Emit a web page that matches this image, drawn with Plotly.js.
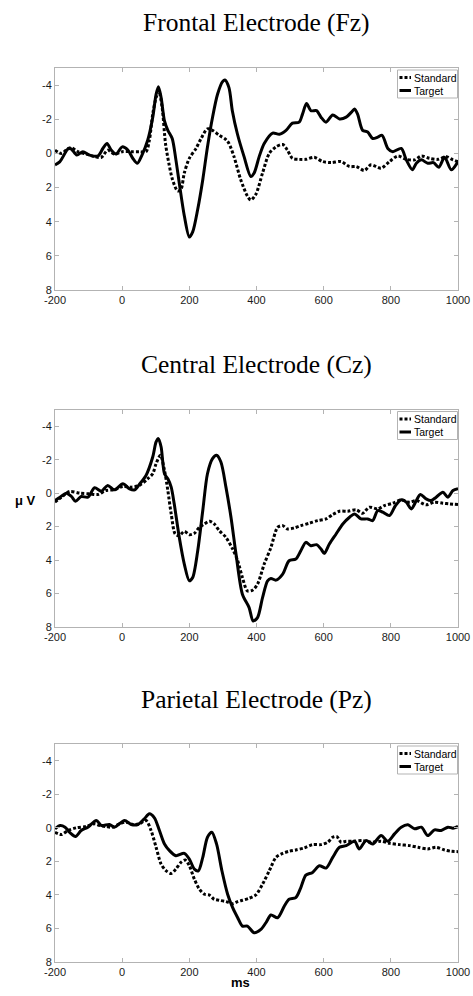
<!DOCTYPE html>
<html>
<head>
<meta charset="utf-8">
<script src="https://cdn.plot.ly/plotly-3.0.1.min.js"></script>
<style>html,body{margin:0;padding:0;background:#fff;}#chart{width:473px;height:996px;}</style>
</head>
<body>
<div id="chart"></div>
<script>
// ---- Data (time in ms, amplitude in µV; negative plotted up) ----
const panelTitles = ["Frontal Electrode (Fz)", "Central Electrode (Cz)", "Parietal Electrode (Pz)"];
const seriesNames = ["Standard", "Target"];
const xTickVals = [-200, 0, 200, 400, 600, 800, 1000];
const yTickVals = [-4, -2, 0, 2, 4, 6, 8];

// Fz
const fzTargetT = [-200,-186,-160,-151,-135,-117,-97,-72,-57,-45,-33,-18,0,17,32,45,59,76,91,101,108,116,126,136,149,160,170,185,200,210,225,240,254,269,284,299,306,318,328,343,363,383,393,408,423,448,468,488,507,527,537,549,562,579,592,607,627,647,667,682,692,701,716,731,746,761,774,791,806,831,846,864,876,891,910,927,943,960,980,1000];
const fzTargetV = [0.67,0.5,-0.29,-0.25,0.1,-0.1,0.1,0.15,-0.3,-0.58,-0.2,0.04,-0.38,-0.2,0.3,0.58,0.1,-0.77,-2.1,-3.46,-3.9,-3.27,-1.9,-1.35,-0.87,0.38,1.73,3.65,4.9,4.6,3.27,1.54,-0.38,-2.1,-3.46,-4.2,-4.3,-3.85,-2.5,-1.15,0.19,1.35,1.15,0.19,-0.58,-1.19,-1.12,-1.35,-1.77,-1.83,-2.3,-2.92,-2.5,-2.5,-2.12,-1.83,-2.25,-2.02,-2.12,-2.4,-2.6,-2.3,-1.35,-1.25,-0.87,-0.95,-1.06,-0.29,-0.1,-0.29,0.38,0.96,0.58,0.38,0.58,0.54,0.81,0.23,0.96,0.48];
const fzStandardT = [-200,-181,-166,-151,-132,-107,-82,-62,-43,-23,0,27,51,71,81,91,101,109,119,129,139,150,165,175,185,200,220,235,254,269,289,309,318,333,353,373,383,398,418,438,458,478,492,507,527,547,572,597,622,652,677,697,721,741,771,796,821,846,871,891,915,940,965,985,1000];
const fzStandardV = [-0.19,0,-0.2,-0.33,-0.1,0.04,0.19,0.23,-0.19,0.04,-0.1,-0.1,-0.1,-0.1,-0.77,-2.3,-3.27,-3.65,-2.7,-0.58,0.58,1.54,2.2,2.1,1.15,0.29,-0.29,-0.87,-1.44,-1.35,-1.06,-0.81,-0.58,0.19,1.54,2.5,2.73,2.4,1.15,0,-0.38,-0.52,-0.19,0.29,0.35,0.35,0.23,0.48,0.54,0.48,0.77,0.77,1.0,0.67,0.87,0.48,0.15,0.35,0.38,0.15,0.29,0.35,0.19,0.38,0.48];

// Cz
const czTargetT = [-200,-185,-166,-151,-139,-122,-102,-82,-62,-43,-23,2,22,37,51,71,91,101,108,116,126,136,146,155,170,185,200,210,225,240,254,269,281,294,309,324,339,358,378,390,403,418,433,443,458,478,497,517,532,547,562,579,592,602,617,637,657,677,692,711,731,746,761,776,796,814,831,846,861,876,888,905,920,935,955,970,985,1000];
const czTargetV = [0.44,0.24,0,0.2,0.48,0.2,0.24,-0.32,-0.12,-0.46,-0.2,-0.56,-0.26,-0.2,-0.52,-1.06,-2.16,-3.06,-3.26,-2.76,-1.16,-0.86,-0.36,0.64,2.64,4.24,5.24,5.04,3.44,1.04,-1.16,-2.06,-2.26,-1.86,-0.36,1.44,3.64,6.04,6.84,7.64,7.44,6.24,5.24,5.1,5.2,4.84,4.04,3.94,3.44,2.94,3.14,3.08,3.34,3.6,3.04,2.44,1.84,1.44,1.24,1.54,1.54,1.64,1.04,1.14,1.34,0.74,0.4,0.54,0.94,0.44,0.08,0.34,0.44,0.24,-0.06,0.24,-0.16,-0.26];
const czStandardT = [-200,-181,-156,-126,-97,-72,-48,-23,2,27,51,76,91,101,114,126,136,146,158,170,185,200,215,230,245,260,274,289,309,329,344,358,373,388,403,423,443,463,478,492,512,532,557,582,607,627,647,672,697,716,736,761,781,806,831,856,876,905,930,955,975,1000];
const czStandardV = [0.54,0.24,-0.1,0,0.04,0.08,-0.16,-0.2,-0.4,-0.36,-0.46,-0.86,-1.16,-1.76,-2.26,-1.36,-0.16,1.24,2.44,2.54,2.28,2.48,2.4,2.04,1.84,1.68,1.84,2.24,2.64,3.34,4.04,5.04,5.84,5.8,5.44,4.24,3.24,2.04,1.94,2.14,2.08,1.94,1.8,1.64,1.54,1.28,1.08,1.08,1.0,1.2,0.84,0.94,0.74,0.6,0.4,0.54,0.44,0.7,0.54,0.6,0.64,0.68];

// Pz
const pzTargetT = [-200,-185,-170,-154,-139,-122,-102,-77,-62,-38,-23,7,27,47,66,81,96,111,126,141,160,185,200,215,227,240,254,267,281,297,314,329,344,358,373,393,413,428,443,463,483,497,517,532,547,567,587,607,627,647,667,692,706,726,746,771,791,811,831,851,871,891,910,930,950,970,985,1000];
const pzTargetV = [0.06,-0.14,-0.04,0.32,0.52,0.16,-0.04,-0.44,-0.14,-0.2,-0.04,-0.44,-0.2,-0.2,-0.54,-0.84,-0.6,0.16,0.96,1.36,1.66,1.52,1.86,2.46,2.56,1.76,0.56,0.26,0.96,2.56,3.96,4.76,5.36,5.86,5.86,6.26,6.06,5.66,5.2,5.36,4.66,4.26,4.16,3.56,2.82,2.66,2.26,2.4,1.76,1.16,1.06,0.8,1.26,0.76,0.96,0.46,0.8,0.36,-0.04,-0.18,0.06,-0.04,0.46,0.12,0.16,-0.04,0.02,-0.08];
const pzStandardT = [-200,-181,-161,-137,-107,-82,-67,-48,-28,-8,12,32,51,71,86,101,116,131,146,160,175,188,200,215,230,245,259,274,289,309,329,344,358,378,398,418,438,458,478,497,517,542,567,592,612,627,639,652,667,687,716,741,771,796,826,856,881,910,935,960,980,1000];
const pzStandardV = [0.26,0.4,0.16,0,-0.08,-0.24,-0.14,-0.08,-0.04,-0.24,-0.34,-0.2,-0.24,-0.44,0.16,1.16,2.16,2.56,2.72,2.46,2.06,1.92,2.26,3.06,3.66,3.96,4.0,4.26,4.32,4.4,4.52,4.4,4.32,4.2,4.0,3.36,2.56,1.76,1.52,1.4,1.32,1.2,1.0,1.0,0.86,0.56,0.52,0.86,0.8,0.8,0.76,0.86,0.8,0.92,1.0,1.06,1.16,1.26,1.16,1.32,1.4,1.42];

const panels = [
  {std: [fzStandardT, fzStandardV], tgt: [fzTargetT, fzTargetV]},
  {std: [czStandardT, czStandardV], tgt: [czTargetT, czTargetV]},
  {std: [pzStandardT, pzStandardV], tgt: [pzTargetT, pzTargetV]}
];

// ---- Layout geometry ----
const W = 473, H = 996, ml = 55, mr = 15, mt = 68, mb = 34;
const plotW = W - ml - mr, plotH = H - mt - mb;
const toPaperY = py => (H - mb - py) / plotH;
const toPaperX = px => (px - ml) / plotW;
const tops = [68, 409.5, 744];
const bottoms = [290, 627, 962];
const domains = tops.map((t, i) => [toPaperY(bottoms[i]), toPaperY(t)]);

const sans = "Liberation Sans, Arial, Helvetica, sans-serif";
const stdLine = {color: "#000", width: 3, dash: "3px,2px", shape: "spline", smoothing: 0.8};
const tgtLine = {color: "#000", width: 3, shape: "spline", smoothing: 0.8};
const traces = [];
const layout = {
  width: W, height: H,
  margin: {l: ml, r: mr, t: mt, b: mb},
  paper_bgcolor: "#fff", plot_bgcolor: "#fff",
  showlegend: false,
  annotations: [], shapes: []
};

panels.forEach((p, i) => {
  const sfx = i === 0 ? "" : String(i + 1);
  traces.push({
    x: p.std[0], y: p.std[1], type: "scatter", mode: "lines", name: seriesNames[0],
    xaxis: "x" + sfx, yaxis: "y" + sfx, line: stdLine
  });
  traces.push({
    x: p.tgt[0], y: p.tgt[1], type: "scatter", mode: "lines", name: seriesNames[1],
    xaxis: "x" + sfx, yaxis: "y" + sfx, line: tgtLine
  });
  const axCommon = {
    showgrid: false, zeroline: false, showline: true, linecolor: "#b3b3b3", linewidth: 1,
    mirror: "ticks", ticks: "inside", ticklen: 4, tickcolor: "#b3b3b3", tickwidth: 1,
    tickfont: {family: sans, size: 11, color: "#1a1a1a"}
  };
  layout["xaxis" + sfx] = Object.assign({}, axCommon, {
    anchor: "y" + sfx, domain: [0, 1], range: [-200, 1000],
    tickmode: "array", tickvals: xTickVals, ticktext: xTickVals.map(String)
  });
  layout["yaxis" + sfx] = Object.assign({}, axCommon, {
    anchor: "x" + sfx, domain: domains[i], range: [8, -5],
    tickmode: "array", tickvals: yTickVals, ticktext: yTickVals.map(String)
  });

  // Legend box (MATLAB style, top-right inside the axes)
  const bTop = tops[i] + 2, bBot = tops[i] + 30, bL = 397.5, bR = 457.5;
  layout.shapes.push({
    type: "rect", xref: "paper", yref: "paper", layer: "above",
    x0: toPaperX(bL), x1: toPaperX(bR), y0: toPaperY(bBot), y1: toPaperY(bTop),
    line: {color: "#b3b3b3", width: 1}, fillcolor: "#fff"
  });
  [[stdLine, 9.5], [tgtLine, 22.5]].forEach(([ln, dy], k) => {
    layout.shapes.push({
      type: "line", xref: "paper", yref: "paper", layer: "above",
      x0: toPaperX(399.5), x1: toPaperX(411), y0: toPaperY(bTop + dy - 2), y1: toPaperY(bTop + dy - 2),
      line: {color: "#000", width: 3, dash: ln.dash || "solid"}
    });
    layout.annotations.push({
      text: seriesNames[k], xref: "paper", yref: "paper",
      x: toPaperX(411.5), y: toPaperY(bTop + dy - 2), xanchor: "left", yanchor: "middle",
      showarrow: false, font: {family: sans, size: 10.5, color: "#000"}
    });
  });

  layout.annotations.push({
    text: panelTitles[i], xref: "paper", yref: "paper", x: 0.5, y: domains[i][1] + 45 / plotH,
    xanchor: "center", yanchor: "middle", showarrow: false,
    font: {family: "Liberation Serif, Times New Roman, serif", size: 25.5, color: "#000"}
  });
});

layout.annotations.push({
  text: "<b>μ V</b>", xref: "paper", yref: "paper", x: toPaperX(25), y: toPaperY(500),
  xanchor: "center", yanchor: "middle", showarrow: false,
  font: {family: sans, size: 13, color: "#000"}
});
layout.annotations.push({
  text: "<b>ms</b>", xref: "paper", yref: "paper", x: toPaperX(240), y: toPaperY(983),
  xanchor: "center", yanchor: "middle", showarrow: false,
  font: {family: sans, size: 13, color: "#000"}
});

Plotly.newPlot("chart", traces, layout, {displayModeBar: false, staticPlot: true});
</script>
</body>
</html>
